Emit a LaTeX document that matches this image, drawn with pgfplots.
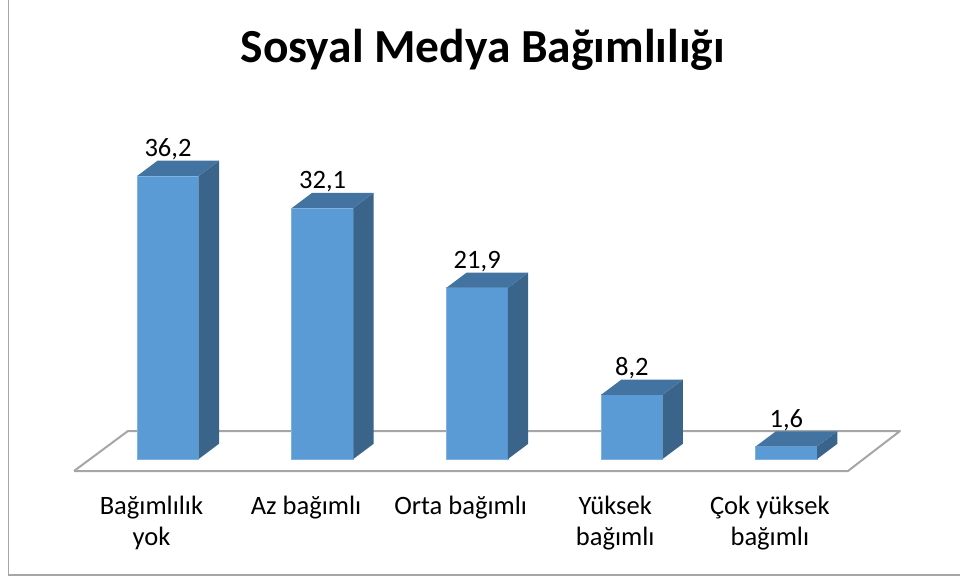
\documentclass[border=0pt]{standalone}
\usepackage{fontspec}
\setmainfont{Carlito}
\usepackage{pgfplots}
\pgfplotsset{compat=1.18}
\usepackage{pgfplotstable}
\definecolor{frontblue}{HTML}{5B9BD5}
\definecolor{topblue}{HTML}{4373A0}
\definecolor{sideblue}{HTML}{3A6489}
\definecolor{edgeblue}{HTML}{7FB2E0}
\definecolor{floorgray}{HTML}{A6A6A6}
\definecolor{framegray}{HTML}{A6A6A6}

\pgfplotstableread{
x v
0 36.2
1 32.1
2 21.9
3 8.2
4 1.6
}\datatable

% side and top faces of a 3D bar, drawn at the front-top-centre of each bar
\pgfdeclareplotmark{bartd}{%
  \pgfmathsetlengthmacro\sidey{11.4pt-\val*5.865pt}%
  \pgfmathsetlengthmacro\negh{-\val*5.865pt}%
  \pgfsetfillcolor{sideblue}%
  \pgfpathmoveto{\pgfpoint{23.05pt}{0pt}}%
  \pgfpathlineto{\pgfpoint{38.25pt}{11.4pt}}%
  \pgfpathlineto{\pgfpoint{38.25pt}{\sidey}}%
  \pgfpathlineto{\pgfpoint{23.05pt}{\negh}}%
  \pgfpathclose
  \pgfusepath{fill}%
  \pgfsetfillcolor{topblue}%
  \pgfpathmoveto{\pgfpoint{-23.05pt}{0pt}}%
  \pgfpathlineto{\pgfpoint{23.05pt}{0pt}}%
  \pgfpathlineto{\pgfpoint{38.25pt}{11.4pt}}%
  \pgfpathlineto{\pgfpoint{-7.85pt}{11.4pt}}%
  \pgfpathclose
  \pgfusepath{fill}%
}

\begin{document}
\begin{tikzpicture}
\useasboundingbox (0,0) rectangle (720pt,434.25pt);
\draw[framegray, line width=1.1pt] (6.4pt,434.25pt) -- (6.4pt,3pt) -- (720pt,3pt);
\node[font=\bfseries\fontsize{35.6}{42}\selectfont, anchor=base] at (362pt,387pt) {Sosyal Medya Bağımlılığı};
\begin{axis}[
  at={(126pt,90pt)}, anchor=south west,
  x=115.95pt, y=5.865pt,
  xmin=0, xmax=4, ymin=0, ymax=36.2,
  clip=false,
  axis lines*=left,
  axis line style={draw=none},
  ytick=\empty,
  xtick={0,1,2,3,4},
  major tick length=0pt,
  xticklabels={{Bağımlılık\\yok},{Az bağımlı},{Orta bağımlı},{Yüksek\\bağımlı},{Çok yüksek\\bağımlı}},
  xticklabel style={align=center, font=\fontsize{19.9}{23.6}\selectfont, inner sep=0pt, yshift=-27.6pt, xshift=-12.4pt},
  /pgf/number format/.cd, use comma, fixed, fixed zerofill, precision=1, assume math mode=true,
]
\addplot[draw=floorgray, line width=1.5pt, line join=round] coordinates {(-0.608,-1.535) (4.398,-1.535) (4.735,3.58) (-0.259,3.58) (-0.608,-1.535)};
\addplot[ybar, bar width=46.1pt, bar shift=0pt, fill=frontblue, draw=edgeblue, line width=0.6pt] table[x=x,y=v]{\datatable};
\addplot[scatter, only marks, mark=bartd, point meta=\thisrow{v},
  visualization depends on={\thisrow{v}\as\val},
  nodes near coords,
  every node near coord/.append style={anchor=base, yshift=14.4pt, font=\fontsize{19.9}{23}\selectfont, text=black}
  ] table[x=x,y=v]{\datatable};
\end{axis}
\end{tikzpicture}
\end{document}
